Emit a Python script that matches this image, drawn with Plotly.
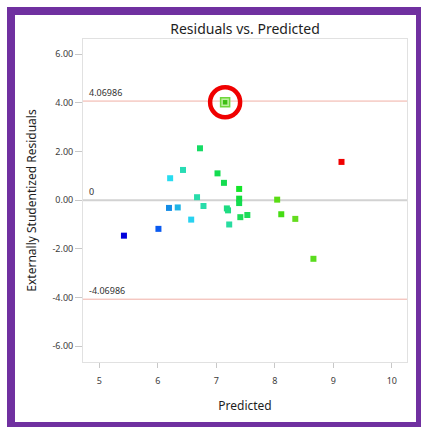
import plotly.graph_objects as go

# Predicted values and externally studentized residuals per run
predicted = [5.42, 6.01, 6.19, 6.21, 6.34, 6.43, 6.57, 6.67, 6.72, 6.78,
             7.02, 7.13, 7.18, 7.20, 7.22, 7.39, 7.39, 7.39, 7.41, 7.53,
             8.04, 8.11, 8.35, 8.66, 9.14]
residuals = [-1.46, -1.18, -0.32, 0.90, -0.30, 1.24, -0.80, 0.12, 2.13, -0.24,
             1.10, 0.71, -0.34, -0.42, -1.00, 0.46, 0.06, -0.12, -0.70, -0.61,
             0.02, -0.58, -0.77, -2.41, 1.57]
point_colors = ["rgb(0,0,220)", "rgb(10,90,240)", "rgb(20,140,230)", "rgb(40,220,240)",
                "rgb(30,180,230)", "rgb(40,220,180)", "rgb(40,210,240)", "rgb(40,220,170)",
                "rgb(20,220,100)", "rgb(40,220,170)", "rgb(20,220,80)", "rgb(20,220,80)",
                "rgb(30,220,130)", "rgb(30,220,130)", "rgb(40,220,160)", "rgb(20,230,40)",
                "rgb(20,220,60)", "rgb(20,220,80)", "rgb(30,220,90)", "rgb(30,220,90)",
                "rgb(90,220,20)", "rgb(70,220,20)", "rgb(100,220,30)", "rgb(90,220,30)",
                "rgb(240,0,0)"]

# Outlier run (selected)
outlier_pred = [7.15]
outlier_resid = [4.02]

# Outlier limits
limit = 4.06986

x_ticks = [5, 6, 7, 8, 9, 10]
y_ticks = [6, 4, 2, 0, -2, -4, -6]
y_tick_text = ["6.00", "4.00", "2.00", "0.00", "-2.00", "-4.00", "-6.00"]

FONT = "Noto Sans"

fig = go.Figure()

fig.add_trace(go.Scatter(
    x=predicted, y=residuals, mode="markers",
    marker=dict(symbol="square", size=6, color=point_colors, line=dict(width=0)),
    hoverinfo="x+y", showlegend=False,
))

# Selected point: outer light square with darker inner square
fig.add_trace(go.Scatter(
    x=outlier_pred, y=outlier_resid, mode="markers",
    marker=dict(symbol="square", size=9, color="rgb(190,240,160)",
                line=dict(color="rgb(110,215,60)", width=1.5)),
    hoverinfo="x+y", showlegend=False,
))
fig.add_trace(go.Scatter(
    x=outlier_pred, y=outlier_resid, mode="markers",
    marker=dict(symbol="square", size=4.5, color="rgb(60,190,20)", line=dict(width=0)),
    hoverinfo="skip", showlegend=False,
))

# Limit lines and zero line
for yv in (limit, -limit):
    fig.add_shape(type="line", xref="paper", x0=0, x1=1, yref="y", y0=yv, y1=yv,
                  line=dict(color="rgb(240,175,165)", width=1), layer="below")
fig.add_shape(type="line", xref="paper", x0=0, x1=1, yref="y", y0=0, y1=0,
              line=dict(color="rgb(210,210,210)", width=2), layer="below")

# Red circle around the outlier
fig.add_shape(type="circle", xref="x", yref="y",
              xsizemode="pixel", ysizemode="pixel",
              xanchor=outlier_pred[0], yanchor=outlier_resid[0],
              x0=-15, x1=15, y0=-15, y1=15,
              line=dict(color="rgb(240,0,0)", width=4.5))

# Purple frame around the whole figure
fig.add_shape(type="rect", xref="paper", yref="paper",
              x0=(11 - 83) / 324, x1=(420 - 83) / 324,
              y0=(362 - 426) / 323, y1=(362 - 11) / 323,
              line=dict(color="rgb(112,48,160)", width=8), layer="above")

for txt, yv in (("4.06986", limit), ("0", 0), ("-4.06986", -limit)):
    fig.add_annotation(x=0.012, xref="paper", y=yv, yref="y", text=txt,
                       showarrow=False, xanchor="left", yanchor="bottom", yshift=0,
                       font=dict(family=FONT, size=9, color="rgb(50,50,50)"))

fig.update_layout(
    width=421, height=427,
    margin=dict(l=83, r=14, t=39, b=65),
    paper_bgcolor="white", plot_bgcolor="white",
    title=dict(text="Residuals vs. Predicted", x=0.5, xref="paper", xanchor="center",
               y=1 - 29 / 427, yanchor="middle",
               font=dict(family=FONT, size=14, color="rgb(30,30,30)")),
    xaxis=dict(range=[4.72, 10.26], tickvals=x_ticks, ticks="outside", ticklen=5,
               tickcolor="rgb(200,200,200)", showgrid=False, zeroline=False,
               showline=True, linecolor="rgb(225,225,225)", mirror=True,
               ticklabelstandoff=5,
               tickfont=dict(family=FONT, size=9, color="rgb(60,60,60)"),
               title=dict(text="Predicted", standoff=15,
                          font=dict(family=FONT, size=12, color="rgb(30,30,30)"))),
    yaxis=dict(range=[-6.65, 6.62], tickvals=y_ticks, ticktext=y_tick_text,
               ticks="outside", ticklen=7, tickcolor="rgb(200,200,200)",
               showgrid=False, zeroline=False,
               showline=True, linecolor="rgb(225,225,225)", mirror=True,
               tickfont=dict(family=FONT, size=9, color="rgb(60,60,60)"),
               title=dict(text="Externally Studentized Residuals", standoff=13,
                          font=dict(family=FONT, size=12, color="rgb(30,30,30)"))),
)

fig.write_html("out.html")
